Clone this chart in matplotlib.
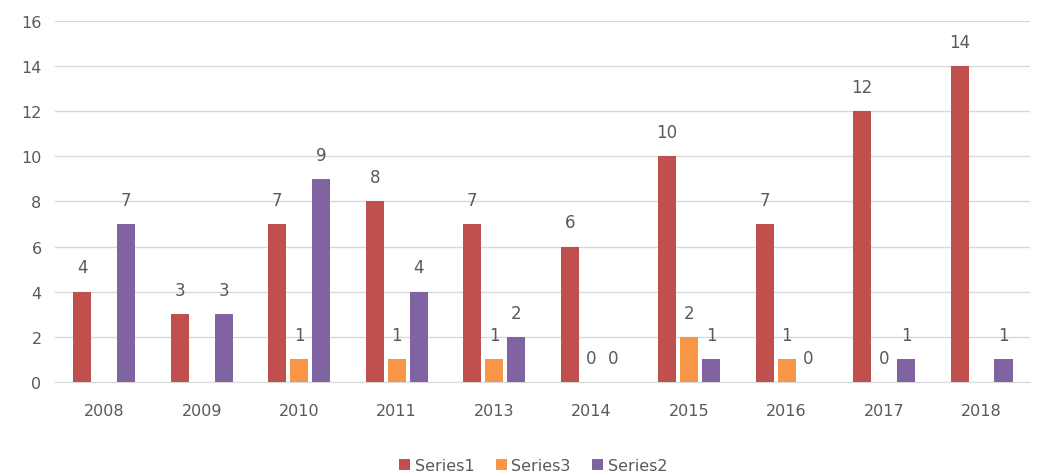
import matplotlib
matplotlib.use("Agg")
from matplotlib import pyplot as plt
import numpy as np

years = ["2008", "2009", "2010", "2011", "2013", "2014", "2015", "2016", "2017", "2018"]
series1 = [4, 3, 7, 8, 7, 6, 10, 7, 12, 14]
series3 = [None, None, 1, 1, 1, 0, 2, 1, 0, None]
series2 = [7, 3, 9, 4, 2, 0, 1, 0, 1, 1]

names = ["Series1", "Series3", "Series2"]
colors = ["#C0504D", "#F79646", "#8064A2"]
text_col = "#595959"

fig, ax = plt.subplots(figsize=(10.46, 4.77), dpi=100)
fig.subplots_adjust(left=0.053, right=0.985, bottom=0.197, top=0.954)

x = np.arange(len(years))
width = 0.185
offsets = [-0.225, 0.0, 0.225]

for vals, name, col, off in zip([series1, series3, series2], names, colors, offsets):
    h = [np.nan if v is None else v for v in vals]
    ax.bar(x + off, h, width=width, color=col, label=name, zorder=3)
    for xi, v in zip(x, vals):
        if v is None:
            continue
        ax.annotate(str(v), (xi + off, v), xytext=(0, 11), textcoords="offset points",
                    ha="center", va="bottom", fontsize=12, color=text_col)

ax.set_xlim(-0.5, len(years) - 0.5)
ax.set_ylim(0, 16)
ax.set_yticks(range(0, 17, 2))
ax.set_xticks(x)
ax.set_xticklabels(years)
ax.yaxis.grid(True, color="#D9D9D9", linewidth=1, zorder=0)
ax.tick_params(axis="both", length=0, labelsize=11.5, colors=text_col)
ax.tick_params(axis="x", pad=15)
ax.tick_params(axis="y", pad=10)
for s in ["top", "right", "left"]:
    ax.spines[s].set_visible(False)
ax.spines["bottom"].set_color("#D9D9D9")

ax.legend(loc="upper center", bbox_to_anchor=(0.49, -0.17), ncol=3, frameon=False,
          fontsize=11.5, labelcolor=text_col, handlelength=0.7, handleheight=0.7,
          handletextpad=0.3, columnspacing=1.3)

plt.savefig("out.png", dpi=100)
